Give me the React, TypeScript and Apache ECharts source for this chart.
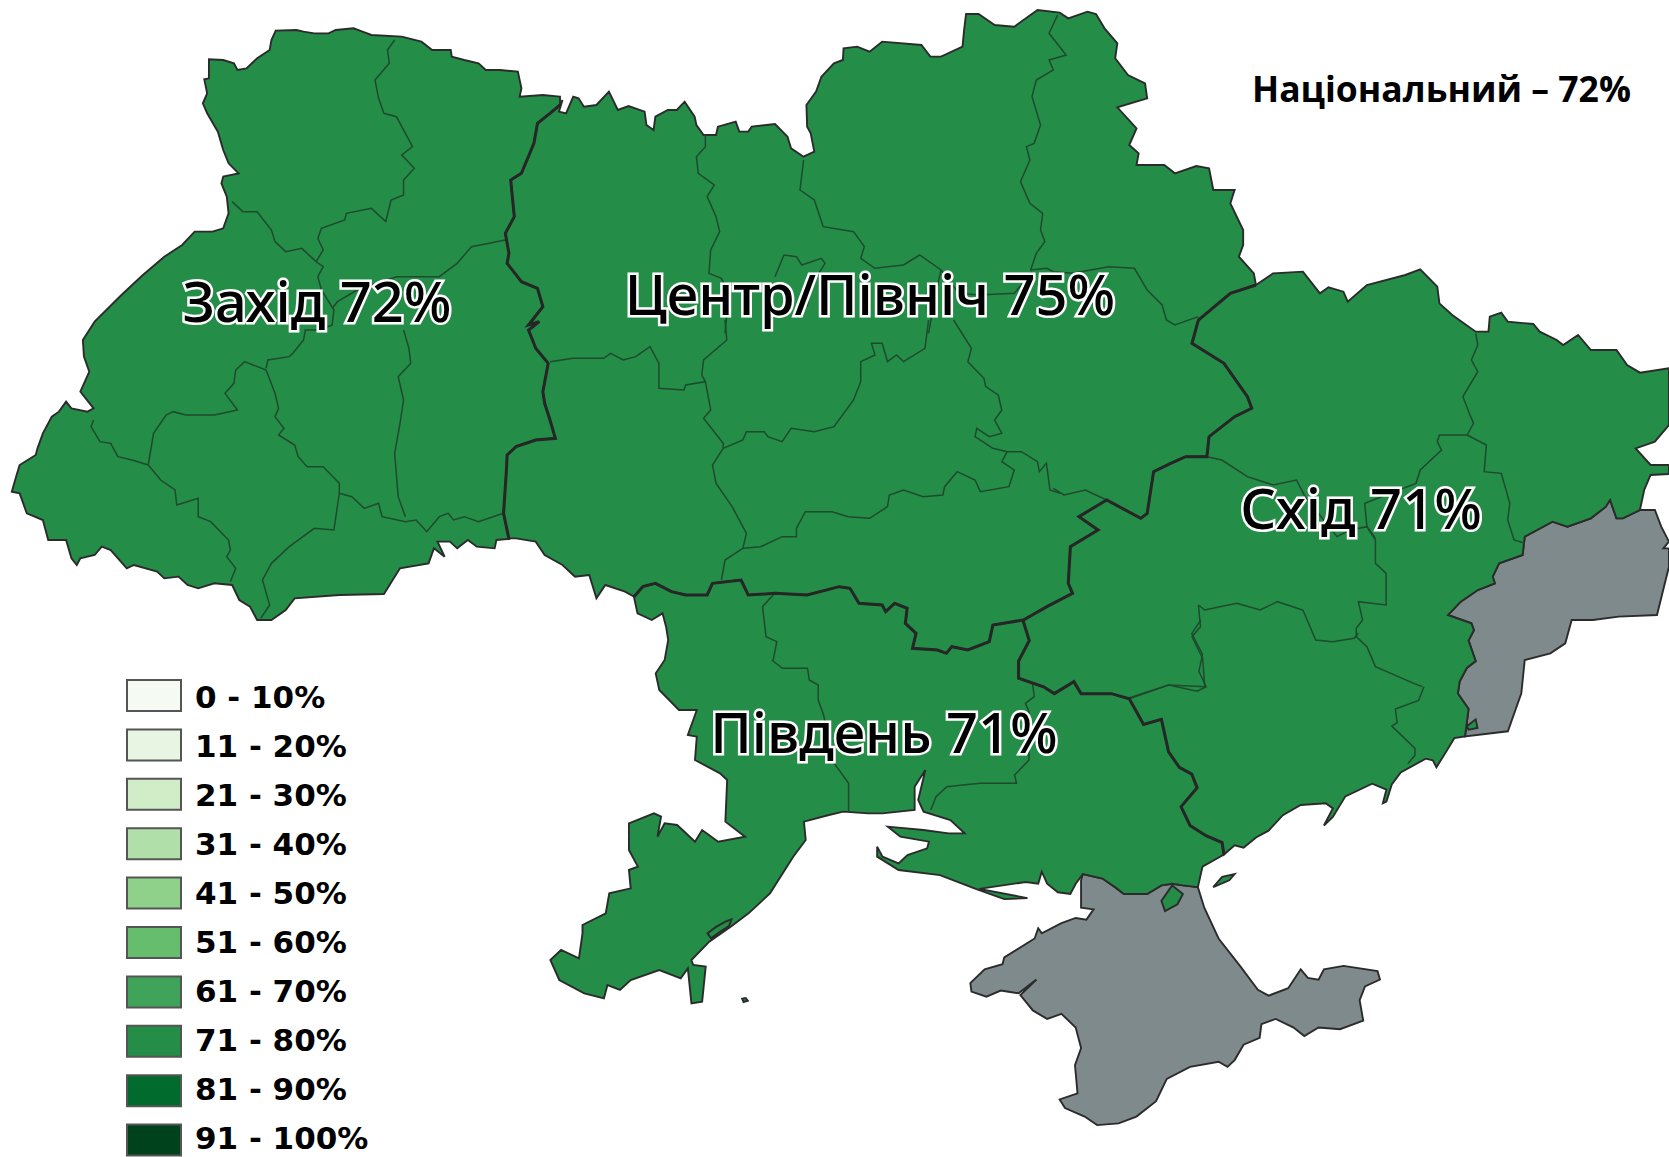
import React, { useEffect, useRef } from "react";
import * as echarts from "echarts";

// ---------- values ----------
const regionNames = ["Захід", "Центр/Північ", "Південь", "Схід"];
const regionValues = [72, 75, 71, 71];
const nationalLabel = "Національний – 72%";
const legendLabels = ["0 - 10%", "11 - 20%", "21 - 30%", "31 - 40%", "41 - 50%", "51 - 60%", "61 - 70%", "71 - 80%", "81 - 90%", "91 - 100%"];
const legendMins = [0, 11, 21, 31, 41, 51, 61, 71, 81, 91];
const legendMaxs = [10, 20, 30, 40, 50, 60, 70, 80, 90, 100];
const legendColors = ["#f5fbf2", "#e8f5e2", "#d0edc8", "#b0dfa9", "#8fd18a", "#66bd6e", "#3fa45a", "#248d48", "#006b2c", "#00421b"];

// ---------- geometry helpers: traced outlines are stored per traced sheet ----------
type P = [number, number];
const sheet = (ox: number, oy: number, sx: number, sy: number) => (f: number[]): P[] => {
  const out: P[] = [];
  for (let i = 0; i < f.length; i += 2) out.push([ox + f[i] / sx, oy + f[i + 1] / sy]);
  return out;
};
const S1 = sheet(0, 0, 2.8, 3);
const S2 = sheet(0, 320, 2.8, 3);
const S3 = sheet(500, 0, 2.8, 3);
const S4 = sheet(500, 320, 2.8, 3);
const S5 = sheet(1000, 0, 2.344, 3);
const S6 = sheet(1000, 300, 2.344, 3);
const S7 = sheet(520, 640, 2.8, 3);
const S8 = sheet(940, 620, 2.8, 2.92);
const rev = (a: P[]) => [...a].reverse();

const westOuter: P[] = [
  ...S1([1568,290,1520,285,1455,290,1460,265,1450,215,1400,210,1360,210,1340,190,1300,180,1265,170,1262,150,1210,150,1180,125,1125,110,1040,105,1015,95,990,85,940,90,920,100,880,100,850,95,830,90,772,92,760,120,755,150,720,175,690,205,665,210,655,190,625,180,585,178,585,235,572,238,580,280,568,310,580,340,610,395,625,450,640,490,668,520,625,530,620,550,635,590,640,640,625,685,595,695,545,695,510,735,460,770,400,825,340,885,265,965,232,1020,235,1070,250,1115]),
  ...S2([225,215,262,265,245,275,200,265,185,245,165,275,145,290,120,340,105,385,100,405,55,435,45,470,33,515,55,520,75,580,120,600,135,660,185,660,200,715,215,735,225,715,265,705,285,680,310,690,355,745,375,735,440,755,460,775,500,770,525,795,555,805,600,790,650,795,670,840,700,860,720,900,760,900,800,870,825,835,950,825,1075,822,1120,745,1200,730,1215,685,1245,710,1225,665,1260,665,1280,685,1310,660,1335,680,1385,685,1390,660,1425,657]),
];
const wcUp: P[] = [
  ...S2([1425,657,1410,580,1418,450,1420,405,1445,380,1500,360,1555,355,1540,300,1525,250,1520,215,1535,130,1500,85,1480,30]),
  ...S1([1510,965,1480,975,1520,920,1505,865,1460,845,1420,790,1425,760,1415,700,1440,650,1430,540,1460,520,1495,430,1505,370,1540,340,1568,315]),
];
const centerNorth: P[] = [
  ...S3([175,300,165,335,185,340,205,290,220,295,235,320,270,315,305,275,330,330,360,318,405,335,410,375,430,390,435,350,470,330,495,330,517,305,545,350,550,375,570,405,605,405,610,380,660,365,670,395,695,395,705,380,770,372,805,410,815,445,850,470,880,455,870,400,860,380,858,315,885,275,900,230,935,190,960,180,962,145,1000,140,1035,155,1070,125,1180,135,1205,170,1235,170,1295,140,1300,85,1305,42,1340,42,1385,75,1440,80,1505,30]),
  ...S5([140,38,160,55,205,35,225,42,245,85,275,130,270,175,300,225,340,250,345,295,275,322,320,385,303,435,325,460,320,495,385,495,410,520,460,498,490,505,500,570,550,570,540,610,570,690,570,735,560,770,595,820,600,855]),
];
const ceDown: P[] = [
  ...S5([600,855,540,880]),
  ...S6([465,60,450,130,525,190,580,290,590,325,550,350,490,410,485,470,435,470,400,490,360,515,345,640,330,655,250,600,185,650,230,690,165,740,160,850,170,880,110,920,55,960]),
];
const csBorder: P[] = S4([375,830,400,800,435,790,480,815,520,825,580,825,595,790,675,780,695,825,770,820,860,825,950,800,980,805,1005,850,1070,855,1080,875,1105,850,1140,865,1135,910,1165,940,1155,985,1225,990,1250,1000,1265,980,1310,990,1370,965,1380,915,1465,900]);
const centerSouthwest: P[] = S4([375,830,350,815,295,795,270,835,250,765,210,770,175,735,125,705,100,665,45,655,30,655]);
const sePath: P[] = S8([232,0,250,60,220,120,220,170,290,195,320,215,375,180,395,215,480,215,530,230,570,305,620,290,640,385,670,430,705,450,720,490,675,545,700,600,745,630,790,650,795,685]);
const eastNorth: P[] = [
  ...S5([600,855,640,820,710,815,750,880,770,862,805,875,815,905,860,855,950,825,985,808,1025,860,1030,910,1060,945]),
  ...S6([1115,95,1145,95,1148,50,1175,38,1190,65,1250,72,1265,95,1305,120,1320,135,1355,105,1385,150,1445,150,1470,195,1500,218,1568,205,1568,375,1535,425,1490,445,1525,495,1568,495,1568,522,1525,525,1510,570]),
];
const donbasWest: P[] = [
  ...S6([1500,630,1460,655,1445,655,1430,600,1420,620,1385,655,1330,680,1295,665,1230,710,1225,765,1170,790,1155,830,1160,850,1120,870,1080,905,1050,945,1105,970]),
  ...S8([1495,30,1480,60,1500,120,1475,140,1455,180,1450,215,1480,260,1470,340]),
];
const donbasEast: P[] = [
  ...S8([1590,325]),
  ...S6([1222,1180,1230,1080,1290,1060,1325,1030,1340,960,1390,960,1450,950,1540,945,1568,800,1568,745,1555,745,1568,725,1550,680,1535,630]),
];
const azovCoast: P[] = S8([1470,340,1440,345,1420,380,1390,430,1380,410,1360,405,1290,445,1265,480,1250,530,1240,535,1250,495,1210,478,1135,515,1100,575,1075,600,1100,550,1080,535,1010,540,960,570,920,615,885,635,850,665,825,658,795,685]);
const southCoast: P[] = [
  ...S8([795,685,735,720,722,780,680,775,650,770,620,775,580,800,515,800,490,780,455,755,400,742,380,770,365,800,330,795,300,770,285,735,275,770,240,765,110,785,245,812,180,815,100,785,0,745]),
  ...S7([1060,690,1000,650,1000,620,1015,650,1060,670,1085,645,1140,625,1145,605,1065,590,1030,560,1130,570,1200,580,1245,580,1205,540,1130,515,1115,480,1135,390,1105,440,1105,510,1015,520,975,520,905,515,865,525,795,545,800,600,765,650,700,760,640,820,590,860,530,905,480,960,485,975,520,980,510,1085,480,1090,470,985,450,1015,390,990,310,1020,280,1050,245,1035,235,1075,180,1060,110,1020,85,960,115,930,165,955,175,880,175,855,240,820,250,760,310,745,305,690,330,680,305,630,305,550,375,520,395,530,385,590,405,550,440,555,490,605,510,570,555,605,630,590,575,545,580,420,560,400,490,360,495,290,470,285,495,210,445,210,390,150,380,100,405,60,415,0]),
  ...S4([465,920,455,880,425,900,385,880,375,830]),
];
const dniesterLiman: P[] = S7([525,880,550,860,575,845,592,838,585,858,560,875,535,895]);
const arabatSpit: P[] = S8([765,780,790,750,825,742,810,760]);
const chonharIsle: P[] = S8([620,820,650,775,680,800,665,830,630,850]);
const azovIsle: P[] = S8([1475,310,1500,290,1505,315,1480,320]);
const snakeIsle: P[] = S7([622,1076,632,1074,638,1082,626,1086]);
const crimea: P[] = S8([722,780,740,840,780,930,840,1010,890,1080,920,1097,975,1075,1010,1020,1030,1045,1060,1050,1075,1020,1130,1010,1225,1025,1232,1050,1190,1070,1175,1110,1185,1170,1120,1195,1060,1190,1020,1215,990,1190,940,1165,900,1180,895,1220,850,1240,825,1285,805,1305,780,1290,700,1305,635,1340,605,1405,550,1450,500,1470,440,1475,405,1450,350,1425,335,1400,385,1382,378,1300,395,1250,380,1190,340,1150,300,1165,260,1140,225,1095,270,1050,220,1090,170,1082,130,1100,88,1085,85,1060,125,1020,175,1005,180,985,265,930,275,900,285,915,340,885,380,870,410,875,430,845,395,840,395,760,400,742,455,755,490,780,515,800,580,800,620,775,650,770,680,775]);

const westPoly = [...westOuter, ...wcUp];
const centerPoly = [...centerNorth, ...ceDown, ...rev(csBorder), ...centerSouthwest, ...wcUp];
const eastPoly = [...eastNorth, ...donbasWest, ...azovCoast, ...rev(sePath), ...rev(ceDown)];
const southPoly = [...csBorder, ...sePath, ...southCoast];
const donbasPoly = [...donbasWest, ...donbasEast];

// macro-region borders (heavy)
const macroBorders: P[][] = [wcUp, ceDown, csBorder, sePath];

// oblast borders inside the macro regions (fine)
const oblastBorders: P[][] = [
  S1([1105,120,1085,150,1090,190,1050,240,1060,295,1075,340,1110,350,1155,440,1125,465,1160,505,1130,540,1130,585,1095,600,1080,665,1040,625,970,640,965,660,900,685,890,715,905,750,885,785]),
  S1([650,605,680,635,720,635,760,690,770,725,800,755,845,745,885,785,905,800,890,830,900,870,935,930,930,975,895,990,855,990,850,1020,820,1060,810,1070,750,1080,745,1105]),
  S1([1415,720,1345,735,1320,740,1280,790,1230,830,1110,830,1000,870,945,905,930,925]),
  S1([1130,990,1145,1045,1150,1090,1115,1130,1130,1200]),
  S2([1130,240,1120,310,1105,400,1115,530,1135,590]),
  S2([262,300,255,320,280,365,310,370,330,410,370,420,415,435,450,480,490,510,495,555,555,535,555,590,590,605,640,660,645,690,635,710,660,745,645,785]),
  S2([415,435,430,340,465,285,485,275,520,285,600,285,665,270,630,220,655,190,660,150,685,125,745,150]),
  S2([745,150,770,220,780,265,770,290,795,325,780,345,825,375,835,410,860,440,905,440,950,490,950,520]),
  S2([950,520,935,630,880,625,810,680,760,730,735,780,755,855,730,895]),
  S2([950,520,985,530,1020,565,1060,550,1070,590,1135,605,1165,600,1195,635,1230,590,1255,580,1270,600,1300,590,1340,605,1395,585,1410,580]),
  S3([575,405,575,440,550,470,555,520,600,555,580,590,605,650,615,695,590,750,585,820,620,835,640,880,630,1000]),
  S4([630,0,635,60,570,120,565,165,575,185]),
  S4([140,125,205,115,290,115,310,100,345,120,380,110,420,80,445,130,445,205,515,210,520,195,575,185,590,270,570,295,625,370,625,385,595,435,605,490,650,560,690,640,680,685,630,720,620,780]),
  S4([625,385,680,360,690,335,740,335,750,350,790,365,815,325,880,335,935,320,990,240,1010,185,1010,125,1050,105,1040,70,1070,70,1085,125,1110,105,1130,125,1190,85,1200,0]),
  S3([850,480,840,570,880,600,905,680,990,695,1020,740,1010,775,1050,805,1130,795,1175,765,1235,810,1285,880,1340,885,1440,880,1490,815]),
  S3([770,830,795,765,830,770,845,795,900,775,910,790,870,860,860,920]),
  S3([1235,810,1220,880,1200,1000]),
  S5([135,45,115,100,155,165,115,180,125,210,85,240,75,290,95,375,80,430,62,440,70,480,48,545,70,610,100,640,95,690,105,725,85,760,72,810,110,805,125,815,170,820,255,800,315,805,345,870,380,915,390,960,410,975,465,950]),
  S4([1270,0,1320,85,1310,125,1355,175,1360,200,1395,225,1405,270,1385,300,1405,340,1370,350,1335,325,1330,350,1380,385,1420,395,1460,395,1505,425,1510,455,1530,430,1540,510,1568,520]),
  S6([125,565,150,585,200,570,250,600]),
  S4([1420,395,1405,425,1440,450,1425,500,1345,515,1330,480,1280,455,1245,500,1240,525,1185,530,1130,510,1090,525,1085,560,1035,595,975,590,930,575,855,575,830,625,830,650,790,650,730,680,680,685]),
  S4([765,825,735,860,745,950,775,965,765,1020]),
  S7([705,60,735,85,805,85,810,120,835,135,835,180,850,225,880,370,920,430,920,515]),
  S7([1435,130,1440,170,1415,190,1425,215,1425,360,1385,405,1390,430,1290,430,1240,435,1195,440,1165,470,1150,510]),
  S6([1115,100,1120,135,1105,180,1120,215,1085,290,1100,340,1110,370,1095,405]),
  S6([485,470,520,480,580,530,640,555,695,540,715,590,790,710,820,690,860,680,880,715]),
  S6([1095,405,1030,405,1025,425,1035,450,985,510,975,550,855,610,860,680,880,720,880,790,905,820,905,915,840,905,850,960,835,985,835,1010,860,1040,880,1100,970,1150,990,1160]),
  S8([1355,195,1340,235,1275,260,1280,300,1265,310,1330,375,1330,395,1310,420]),
  S6([1095,405,1140,435,1135,515,1175,520,1195,610,1190,660,1205,720,1230,730]),
  S6([465,915,480,930,555,910,610,930,650,905,710,930,740,1020,780,1025,830,1015,840,1000]),
  S6([465,915,470,980,450,1010,475,1075,480,1160,395,1155,300,1195]),
  S8([730,0,705,40,735,100,725,150,745,195,720,208,640,190,530,230]),
];

// Occupied areas come first so the green islands inside them stay on top.
const regionShapes: Record<string, { polys: P[][][]; labelAt?: P }> = {
  "Крим": { polys: [[crimea]] },
  "Донбас": { polys: [[donbasPoly]] },
  [regionNames[0]]: { polys: [[westPoly]], labelAt: [317, 300] },
  [regionNames[1]]: { polys: [[centerPoly]], labelAt: [870, 293] },
  [regionNames[2]]: { polys: [[southPoly, dniesterLiman], [chonharIsle], [snakeIsle]], labelAt: [884, 731] },
  [regionNames[3]]: { polys: [[eastPoly], [arabatSpit], [azovIsle]], labelAt: [1361, 507] },
};

const closeRing = (p: P[]) => [...p, p[0]];
const geoJson = {
  type: "FeatureCollection",
  features: Object.entries(regionShapes).map(([name, r]) => ({
    type: "Feature",
    properties: { name, cp: r.labelAt },
    geometry: { type: "MultiPolygon", coordinates: r.polys.map((rings) => rings.map(closeRing)) },
  })),
};

const allPts = Object.values(regionShapes).flatMap((r) => r.polys.flat(2));
const bx0 = Math.min(...allPts.map((p) => p[0]));
const bx1 = Math.max(...allPts.map((p) => p[0]));
const by0 = Math.min(...allPts.map((p) => p[1]));
const by1 = Math.max(...allPts.map((p) => p[1]));

const identity = { project: (p: number[]) => p, unproject: (p: number[]) => p };
const layout = { left: bx0, top: by0, width: bx1 - bx0, height: by1 - by0 };

export default function App() {
  const ref = useRef<HTMLDivElement>(null);
  useEffect(() => {
    echarts.registerMap("ua", geoJson as any);
    const chart = echarts.init(ref.current!, null, { renderer: "svg" });
    const legendTop = 680;
    const legendStep = 49.4;
    const legendTextStep = 49;
    chart.setOption({
      animation: false,
      backgroundColor: "#fff",
      title: {
        text: nationalLabel,
        left: 1247,
        top: 65,
        textStyle: { fontFamily: "Open Sans", fontWeight: "bold", fontSize: 35.5, color: "#000" },
      },
      visualMap: {
        show: false,
        type: "piecewise",
        seriesIndex: 0,
        pieces: legendMins.map((min, i) => ({ min, max: legendMaxs[i], color: legendColors[i] })),
      },
      geo: { map: "ua", show: false, projection: identity, ...layout, silent: true },
      series: [
        {
          type: "map",
          map: "ua",
          projection: identity,
          ...layout,
          silent: true,
          selectedMode: false,
          emphasis: { disabled: true },
          itemStyle: { areaColor: "#7f8a8d", borderColor: "#2b2b2b", borderWidth: 1.9 },
          label: {
            show: true,
            fontFamily: "Noto Sans",
            fontWeight: 500,
            fontSize: 56,
            color: "#000",
            textBorderColor: "#fff",
            textBorderWidth: 5,
            formatter: (p: any) => (isNaN(p.value) ? "" : `${p.name} ${p.value}%`),
          },
          data: regionNames.map((name, i) => ({ name, value: regionValues[i] })),
        },
        {
          type: "lines",
          coordinateSystem: "geo",
          geoIndex: 0,
          polyline: true,
          silent: true,
          lineStyle: { color: "#1f4a2e", width: 1.5, opacity: 1 },
          data: oblastBorders.map((coords) => ({ coords })),
        },
        {
          type: "lines",
          coordinateSystem: "geo",
          geoIndex: 0,
          polyline: true,
          silent: true,
          lineStyle: { color: "#262626", width: 3, opacity: 1 },
          data: macroBorders.map((coords) => ({ coords })),
        },
      ],
      graphic: legendLabels.flatMap((label, i) => [
        {
          type: "rect",
          shape: { x: 127, y: legendTop + i * legendStep, width: 54, height: 31 },
          style: { fill: legendColors[i], stroke: "#555", lineWidth: 2 },
          silent: true,
        },
        {
          type: "text",
          x: 195,
          y: legendTop + i * legendTextStep + 16.5,
          style: { text: label, fontFamily: "DejaVu Sans", fontWeight: "bold", fontSize: 31, fill: "#000", verticalAlign: "middle", align: "left" },
          silent: true,
        },
      ]),
    });
    return () => chart.dispose();
  }, []);
  return <div ref={ref} style={{ position: "absolute", left: 0, top: 0, width: 1669, height: 1157 }} />;
}
